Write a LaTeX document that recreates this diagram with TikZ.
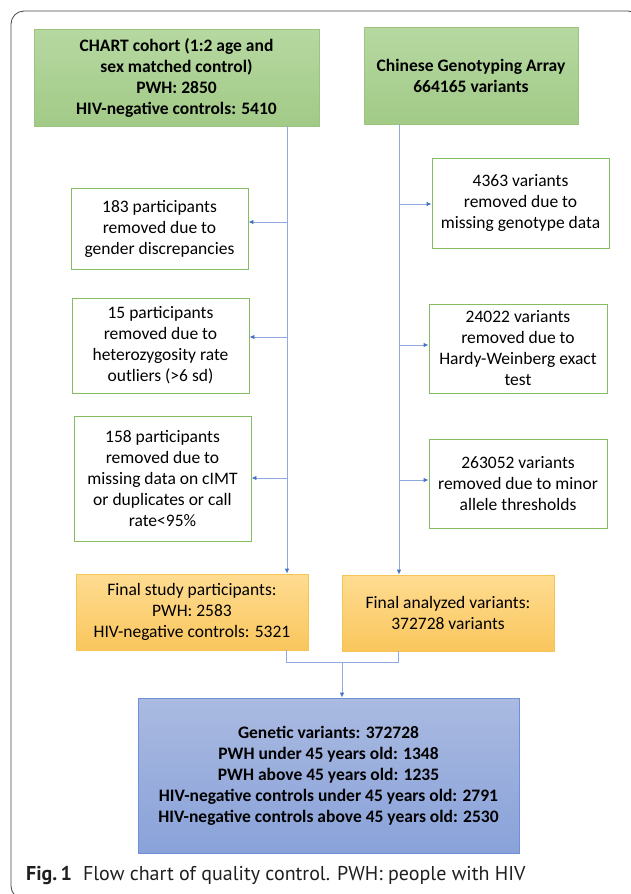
\documentclass[tikz,border=0pt]{standalone}
\usepackage{fontspec}
\setmainfont{Carlito}
\newfontfamily\capfont{PT Sans}
\usetikzlibrary{arrows.meta}
\definecolor{grtop}{HTML}{B6D8A1}
\definecolor{grbot}{HTML}{A2CA87}
\definecolor{grline}{HTML}{9CC47F}
\definecolor{ortop}{HTML}{FFDC92}
\definecolor{orbot}{HTML}{F9C65C}
\definecolor{orline}{HTML}{F4C552}
\definecolor{bltop}{HTML}{AABAE1}
\definecolor{blbot}{HTML}{89A2D9}
\definecolor{blline}{HTML}{6E90D6}
\definecolor{wbline}{HTML}{86BD62}
\definecolor{conn}{HTML}{8FAADF}
\definecolor{tip}{HTML}{4472C4}
\definecolor{frame}{HTML}{444444}
\tikzset{
  txt/.style={font=\fontsize{17.5}{21}\selectfont, align=center, inner sep=0pt, text=black},
  greenbox/.style={txt, font=\fontsize{17.5}{21}\selectfont\bfseries, draw=grline, line width=0.8pt, top color=grtop, bottom color=grbot},
  whitebox/.style={txt, draw=wbline, line width=0.9pt, fill=white},
  orangebox/.style={txt, draw=orline, line width=0.8pt, top color=ortop, bottom color=orbot},
  bluebox/.style={txt, font=\fontsize{17.5}{21}\selectfont\bfseries, draw=blline, line width=0.8pt, top color=bltop, bottom color=blbot},
  link/.style={draw=conn, line width=0.9pt},
  arrowlink/.style={link, -{Latex[length=5pt,width=4.5pt,color=tip]}},
}
\begin{document}
\begin{tikzpicture}[x=1pt,y=-1pt]
\useasboundingbox (0,0) rectangle (630,894);
\draw[frame, line width=0.8pt, rounded corners=13pt] (11,11) rectangle (641,899);

% top boxes
\node[greenbox, minimum width=285pt, minimum height=97pt] (chart) at (176.5,77.5)
  {CHART cohort (1:2 age and\\ sex matched control)\\ PWH: 2850\\ HIV-negative controls: 5410};
\node[greenbox, minimum width=214pt, minimum height=97pt] (array) at (471,75.5)
  {Chinese Genotyping Array\\ 664165 variants};

% left removal boxes
\node[whitebox, minimum width=177pt, minimum height=81pt] (r183) at (159.5,228.5)
  {183 participants\\ removed due to\\ gender discrepancies};
\node[whitebox, minimum width=177pt, minimum height=95pt] (r15) at (160.5,345.5)
  {15 participants\\ removed due to\\ heterozygosity rate\\ outliers (>6 sd)};
\node[whitebox, minimum width=177pt, minimum height=125pt] (r158) at (162.5,478.5)
  {158 participants\\ removed due to\\ missing data on cIMT\\ or duplicates or call\\ rate<95\%};

% right removal boxes
\node[whitebox, minimum width=177pt, minimum height=90pt] (v4363) at (520.5,203)
  {4363 variants\\ removed due to\\ missing genotype data};
\node[whitebox, minimum width=178pt, minimum height=89pt] (v24022) at (518,348.5)
  {24022 variants\\ removed due to\\ Hardy-Weinberg exact\\ test};
\node[whitebox, minimum width=178pt, minimum height=89pt] (v263052) at (518,483.5)
  {263052 variants\\ removed due to minor\\ allele thresholds};

% final boxes
\node[orangebox, minimum width=232pt, minimum height=76pt] (fstudy) at (192,612)
  {Final study participants:\\ PWH: 2583\\ HIV-negative controls: 5321};
\node[orangebox, minimum width=212pt, minimum height=76pt] (fvar) at (448,613)
  {Final analyzed variants:\\ 372728 variants};

\node[bluebox, minimum width=381pt, minimum height=155pt] (result) at (328.5,775.5)
  {Genetic variants: 372728\\ PWH under 45 years old: 1348\\ PWH above 45 years old: 1235\\ HIV-negative controls under 45 years old: 2791\\ HIV-negative controls above 45 years old: 2530};

% left trunk
\coordinate (lt) at (287,126);
\coordinate (lb1) at (287,222);
\coordinate (lb2) at (287,337);
\coordinate (lb3) at (287,478);
\draw[arrowlink] (lt) -- (lt |- fstudy.north);
\draw[arrowlink] (lb1) -- (lb1 -| r183.east);
\draw[arrowlink] (lb2) -- (lb2 -| r15.east);
\draw[arrowlink] (lb3) -- (lb3 -| r158.east);

% right trunk
\coordinate (rt) at (399,124);
\coordinate (rb1) at (399,204);
\coordinate (rb2) at (399,345);
\coordinate (rb3) at (399,480);
\draw[arrowlink] (rt) -- (rt |- fvar.north);
\draw[arrowlink] (rb1) -- (rb1 -| v4363.west);
\draw[arrowlink] (rb2) -- (rb2 -| v24022.west);
\draw[arrowlink] (rb3) -- (rb3 -| v263052.west);

% merge
\coordinate (ml) at (286,662);
\coordinate (mr) at (398,662);
\coordinate (mc) at (342,662);
\draw[link] (ml |- fstudy.south) -- (ml) -- (mr) -- (mr |- fvar.south);
\draw[arrowlink] (mc) -- (mc |- result.north);

% caption
\node[anchor=base west, inner sep=0pt, font=\capfont\fontsize{20}{22}\selectfont, text=black!88] (cap) at (26,880)
  {\textbf{Fig.\,1}\hspace{11pt}Flow chart of quality control. PWH: people with HIV};
\end{tikzpicture}
\end{document}
